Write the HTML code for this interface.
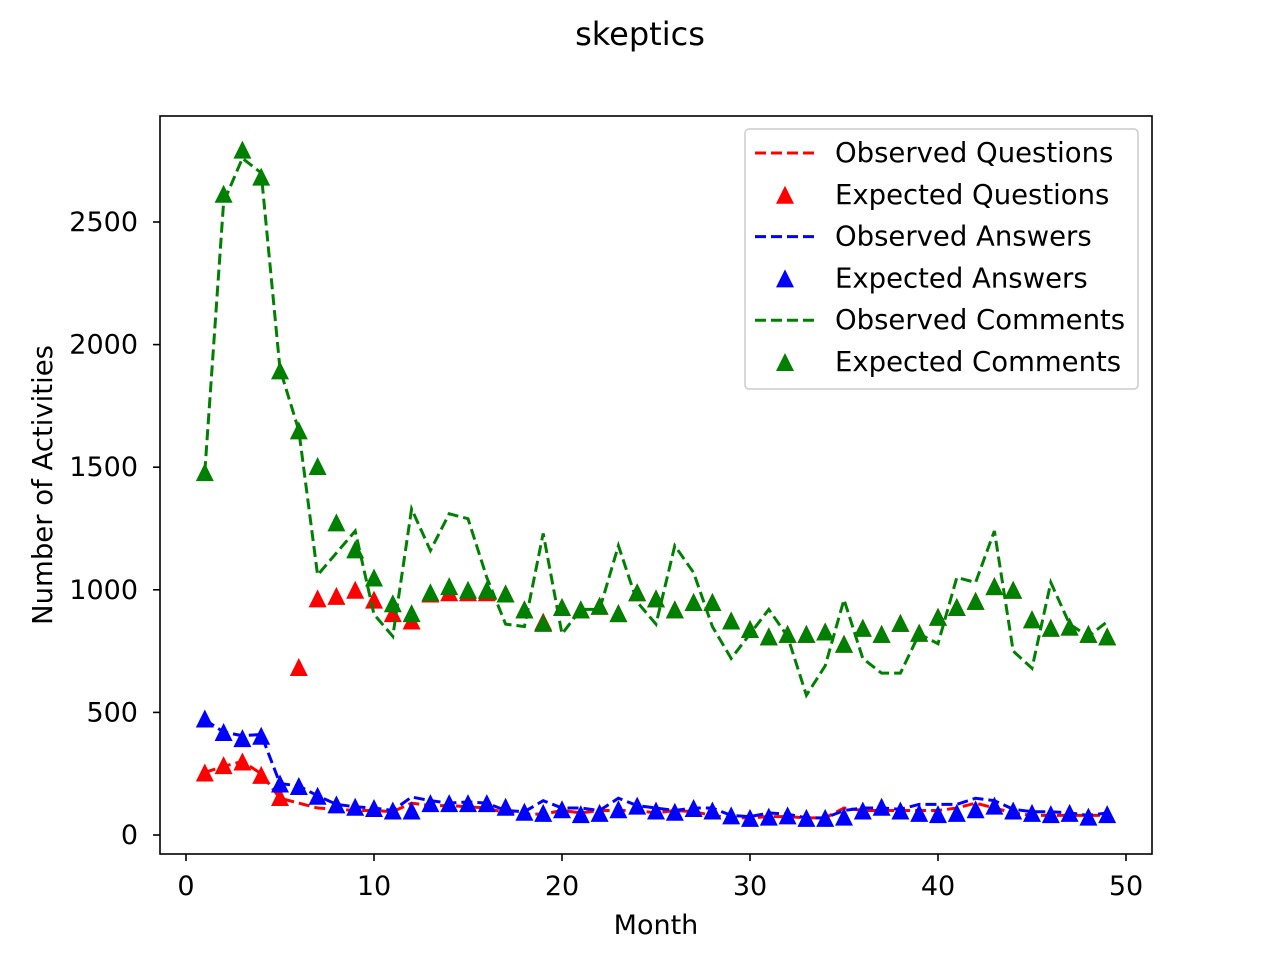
<!DOCTYPE html>
<html><head><meta charset="utf-8">
<style>html,body{margin:0;padding:0;background:#fff}svg{display:block;font-family:"DejaVu Sans","Liberation Sans",sans-serif}</style>
</head><body>
<svg id="chart" width="1280" height="960" viewBox="0 0 1280 960" xmlns="http://www.w3.org/2000/svg">
<rect width="1280" height="960" fill="#fff"/>
<text x="640" y="45" text-anchor="middle" font-size="32">skeptics</text>
<g id="plot"></g>
<rect x="160" y="116" width="992" height="738" fill="none" stroke="#000" stroke-width="1.6"/>
<text x="656" y="934" text-anchor="middle" font-size="27">Month</text>
<text transform="translate(52,485) rotate(-90)" text-anchor="middle" font-size="27.5">Number of Activities</text>
<g>
<rect x="745" y="129" width="393" height="260" rx="4" fill="#fff" fill-opacity="0.8" stroke="#ccc" stroke-width="1.5"/>
<g id="legend-items"></g>
</g>
</svg>
<script>
const months = Array.from({length:49},(_,i)=>i+1);
const obsQuestions=[255,280,300,250,150,130,110,105,100,100,95,130,120,120,115,110,90,85,85,100,90,100,100,100,90,100,95,80,70,70,75,75,70,70,110,100,100,100,100,100,110,130,110,90,80,80,80,80,80];
const expQuestions=[255,285,300,245,155,685,965,975,1000,960,905,875,985,990,990,990,985,920,870,930,920,935,905,990,965,920,950,950,875,840,810,820,820,830,780,845,820,865,825,890,930,955,1015,1000,880,845,850,820,810];
const obsAnswers=[470,420,405,410,210,200,160,125,115,110,100,155,140,130,135,130,100,95,140,110,110,100,150,120,110,100,110,110,80,75,90,85,70,70,100,110,110,105,125,125,125,150,140,105,95,95,90,80,90];
const expAnswers=[475,420,395,405,210,200,160,125,115,110,100,100,130,130,130,130,115,95,90,105,85,90,105,120,100,95,110,100,80,70,75,80,70,70,75,100,115,100,90,85,90,105,120,100,90,85,90,75,85];
const obsComments=[1480,2580,2760,2700,1900,1650,1060,1150,1240,900,810,1330,1160,1310,1290,1050,860,850,1230,820,920,920,1180,950,860,1180,1070,850,720,820,920,810,570,690,960,720,660,660,820,780,1050,1030,1240,750,680,1030,860,810,870];
const expComments=[1480,2615,2795,2685,1895,1650,1505,1275,1165,1050,945,905,990,1015,1000,1000,985,920,865,930,920,935,905,990,965,920,950,950,875,840,810,820,820,830,780,845,820,865,825,890,930,955,1015,1000,880,845,850,820,810];
const xTicks=[0,10,20,30,40,50];
const yTicks=[0,500,1000,1500,2000,2500];
const legendLabels=["Observed Questions","Expected Questions","Observed Answers","Expected Answers","Observed Comments","Expected Comments"];

const NS="http://www.w3.org/2000/svg";
const X=v=>186+v*18.8;
const Y=v=>835-v*0.2452;
const plot=document.getElementById('plot');
function mk(tag,attrs,parent){const e=document.createElementNS(NS,tag);for(const k in attrs)e.setAttribute(k,attrs[k]);(parent||plot).appendChild(e);return e;}
function tri(x,y,c,parent){return mk('path',{d:`M${x},${y-9}L${x-9},${y+9}L${x+9},${y+9}Z`,fill:c},parent);}

xTicks.forEach(t=>{
  const l=mk('line',{x1:X(t),x2:X(t),y1:854,y2:861,stroke:'#000','stroke-width':1.6});
  
  
  const tx=mk('text',{x:X(t),y:895,'text-anchor':'middle','font-size':27});tx.textContent=t;
  
  
});
yTicks.forEach(t=>{
  const l=mk('line',{x1:153,x2:160,y1:Y(t),y2:Y(t),stroke:'#000','stroke-width':1.6});
  
  
  const tx=mk('text',{x:138,y:Y(t)+9,'text-anchor':'end','font-size':27});tx.textContent=t;
  
  
});
const series=[[obsQuestions,expQuestions,'#ff0000','questions'],[obsAnswers,expAnswers,'#0000ff','answers'],[obsComments,expComments,'#008000','comments']];
series.forEach(([obs,exp,c,n])=>{
  const pl=mk('polyline',{points:obs.map((v,i)=>X(months[i])+','+Y(v)).join(' '),fill:'none',stroke:c,'stroke-width':3,'stroke-dasharray':'11,5'});
  
  
  exp.forEach((v,i)=>{
    const t=tri(X(months[i]),Y(v),c);
    
    
  });
});
const lg=document.getElementById('legend-items');
const lcolors=['#ff0000','#ff0000','#0000ff','#0000ff','#008000','#008000'];
legendLabels.forEach((lab,i)=>{
  const y=153+i*41.8;
  if(i%2===0){
    const l=mk('line',{x1:755,x2:815,y1:y,y2:y,stroke:lcolors[i],'stroke-width':3,'stroke-dasharray':'11,5'},lg);
    
    
  } else {
    const t=tri(785,y,lcolors[i],lg);
    
    
  }
  const tx=mk('text',{x:835,y:y+9,'font-size':27.5},lg);tx.textContent=lab;
  
  
});
</script>
</body></html>
